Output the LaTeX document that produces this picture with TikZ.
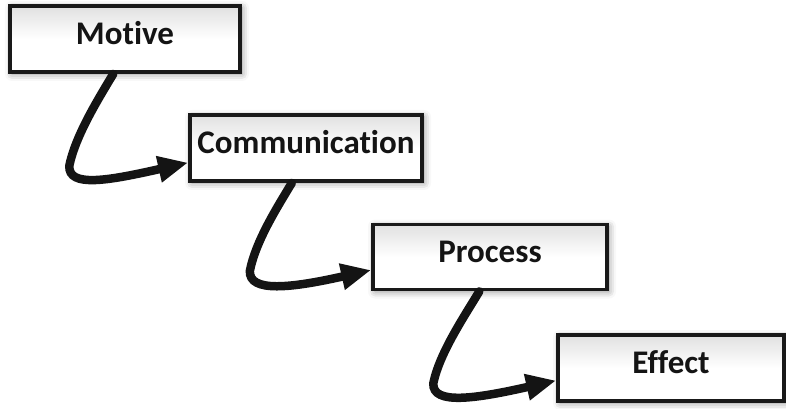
\documentclass[tikz,border=0pt]{standalone}
\usepackage{fontspec}
\setmainfont{Carlito}[Ligatures={NoCommon}]
\usetikzlibrary{arrows.meta,shadows.blur,calc}
\tikzset{
  box/.style={draw=black!90, line width=3.8pt, minimum width=230pt, minimum height=66pt,
    inner sep=0pt, top color=black!12, bottom color=white, middle color=white,
    font=\bfseries\fontsize{33}{36}\selectfont, text=black!92,
    text height=21pt, text depth=10pt,
    blur shadow={shadow xshift=2pt, shadow yshift=-2pt, shadow blur radius=7pt, shadow opacity=45}},
  conn/.style={line width=8.5pt, black!92, line cap=round,
    -{Triangle[length=30pt,width=25pt]}}
}
\begin{document}
\begin{tikzpicture}[x=1pt,y=1pt]
\useasboundingbox (0,0) rectangle (786,408);
\node[box] (m) at (125,369) {Motive};
\node[box, minimum width=232pt] (c) at (306,260) {Communication};
\node[box, minimum width=234pt, minimum height=65pt] (p) at (490,151) {Process};
\node[box, minimum width=226pt] (e) at (671,40) {Effect};
\coordinate (s1) at ($(m.south west)!0.45!(m.south east)$);
\coordinate (t1) at ($(c.north west)!0.71!(c.south west)$);
\coordinate (k1) at ($(s1)+(-44,-92)$);
\coordinate (s2) at ($(c.south west)!0.44!(c.south east)$);
\coordinate (t2) at ($(p.north west)!0.69!(p.south west)$);
\coordinate (k2) at ($(s2)+(-42,-88)$);
\coordinate (s3) at ($(p.south west)!0.455!(p.south east)$);
\coordinate (t3) at ($(e.north west)!0.68!(e.south west)$);
\coordinate (k3) at ($(s3)+(-46,-92)$);
\foreach \s/\k/\t in {s1/k1/t1, s2/k2/t2, s3/k3/t3}{
  \draw[conn] (\s) .. controls +(-15,-25) and +(6,30) .. (\k)
    .. controls +(-1,-22) and +(-80,-18) .. (\t);
}
\end{tikzpicture}
\end{document}
